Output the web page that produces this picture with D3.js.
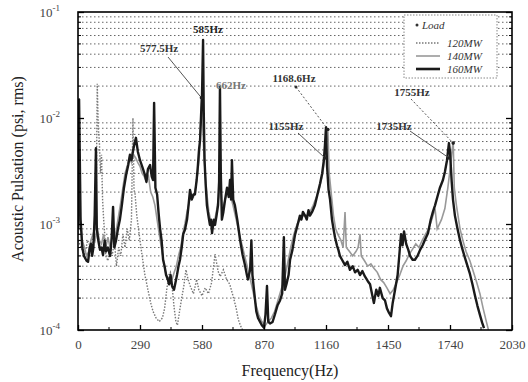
<!DOCTYPE html>
<html>
<head>
<meta charset="utf-8">
<script src="https://cdn.jsdelivr.net/npm/d3@7"></script>
<style>
  body { margin: 0; background: #fff; }
  svg { display: block; }
  text { font-family: "Liberation Serif", "DejaVu Serif", serif; }
</style>
</head>
<body>
<div id="chart"></div>
<script>
// tick labels
var xTicks = [0, 290, 580, 870, 1160, 1450, 1740, 2030];
var yTicks = [1e-4, 1e-3, 1e-2, 1e-1];
var yTickExp = ["-4", "-3", "-2", "-1"];
var seriesNames = ["120MW", "140MW", "160MW"];

// 120MW (dotted)
var f120 = [0, 15, 30, 45, 60, 75, 85, 90, 95, 100, 105, 110, 115, 120, 125, 130, 140, 150, 160, 170, 180, 190, 200, 210, 220, 230, 240, 250, 257, 262, 267, 275, 290, 300, 313, 327, 340, 351, 365, 380, 395, 405, 415, 425, 432, 440, 450, 458, 465, 475, 485, 495, 505, 515, 525, 540, 555, 565, 580, 595, 610, 625, 641, 655, 665, 680, 695, 710, 725, 740, 750, 760, 770];
var v120 = [0.0007, 0.0006, 0.0005, 0.0007, 0.0006, 0.0008, 0.0015, 0.021, 0.008, 0.006, 0.003, 0.0045, 0.0017, 0.0011, 0.0008, 0.0005, 0.00045, 0.0006, 0.0005, 0.0007, 0.0004, 0.0006, 0.0005, 0.0008, 0.0006, 0.0009, 0.0007, 0.0011, 0.010, 0.0021, 0.0019, 0.0012, 0.0007, 0.0005, 0.00033, 0.00024, 0.00018, 0.00015, 0.00013, 0.00012, 0.00013, 0.00016, 0.00024, 0.00033, 0.00035, 0.00026, 0.00016, 0.00012, 0.000111, 0.00015, 0.0002, 0.00026, 0.00037, 0.0003, 0.00026, 0.00022, 0.0003, 0.00024, 0.00021, 0.00025, 0.00022, 0.00028, 0.00052, 0.00036, 0.00032, 0.00037, 0.0003, 0.00027, 0.00021, 0.00016, 0.000125, 0.00011, 0.0001];

// 140MW (thin grey)
var f140 = [0, 10, 20, 30, 40, 50, 60, 70, 80, 90, 100, 110, 120, 130, 140, 150, 160, 170, 180, 190, 200, 210, 220, 230, 240, 250, 260, 270, 280, 290, 300, 310, 320, 330, 340, 350, 360, 370, 380, 390, 400, 410, 420, 430, 440, 450, 460, 470, 480, 490, 500, 510, 520, 530, 540, 550, 560, 568, 574, 578, 582, 588, 595, 603, 612, 620, 630, 640, 650, 658, 663, 668, 675, 685, 695, 705, 715, 725, 740, 755, 770, 785, 800, 815, 830, 845, 860, 875, 890, 905, 920, 935, 950, 965, 980, 995, 1010, 1025, 1040, 1055, 1070, 1085, 1100, 1115, 1130, 1145, 1155, 1163, 1169, 1175, 1185, 1195, 1205, 1215, 1230, 1240, 1249, 1255, 1270, 1285, 1300, 1310, 1319, 1325, 1340, 1355, 1370, 1385, 1400, 1415, 1430, 1445, 1460, 1475, 1490, 1505, 1520, 1535, 1550, 1565, 1580, 1595, 1610, 1625, 1640, 1655, 1670, 1680, 1700, 1716, 1730, 1742, 1750, 1755, 1760, 1770, 1787, 1800, 1815, 1833, 1850, 1865, 1880, 1895, 1910, 1920];
var v140 = [0.0008, 0.0012, 0.0007, 0.0006, 0.0005, 0.00055, 0.0007, 0.0008, 0.0007, 0.0009, 0.0007, 0.00065, 0.0008, 0.0006, 0.00075, 0.0006, 0.0008, 0.0007, 0.0009, 0.0012, 0.0016, 0.0022, 0.003, 0.0035, 0.0042, 0.0038, 0.0045, 0.0042, 0.0038, 0.0035, 0.003, 0.0028, 0.0025, 0.0028, 0.002, 0.0018, 0.0015, 0.0011, 0.0008, 0.0006, 0.00045, 0.00035, 0.0003, 0.00028, 0.0003, 0.00035, 0.0004, 0.0005, 0.0006, 0.0008, 0.001, 0.0013, 0.0016, 0.0019, 0.0018, 0.0022, 0.003, 0.0045, 0.009, 0.016, 0.01, 0.005, 0.003, 0.0019, 0.0013, 0.0011, 0.0009, 0.0011, 0.0014, 0.0018, 0.0045, 0.0022, 0.0014, 0.0016, 0.0019, 0.0021, 0.0018, 0.0015, 0.0011, 0.0008, 0.0006, 0.00045, 0.00034, 0.00025, 0.00018, 0.00014, 0.00012, 0.00011, 0.00012, 0.00013, 0.00015, 0.00019, 0.00024, 0.0003, 0.00042, 0.0006, 0.0008, 0.001, 0.0011, 0.0012, 0.0012, 0.0013, 0.0015, 0.0018, 0.0022, 0.003, 0.0045, 0.0065, 0.0075, 0.003, 0.0019, 0.0012, 0.0009, 0.0008, 0.0007, 0.0006, 0.0013, 0.0006, 0.00055, 0.0005, 0.00055, 0.0006, 0.0008, 0.0005, 0.00045, 0.0004, 0.00042, 0.00038, 0.00035, 0.0003, 0.00028, 0.00025, 0.00022, 0.00024, 0.00028, 0.00033, 0.0004, 0.00045, 0.00052, 0.00058, 0.00065, 0.0006, 0.0007, 0.0008, 0.0009, 0.0011, 0.0014, 0.0009, 0.0011, 0.0014, 0.0022, 0.0035, 0.005, 0.006, 0.0022, 0.0015, 0.0009, 0.0007, 0.00055, 0.00045, 0.00035, 0.00028, 0.00022, 0.00016, 0.00012, 0.0001];

// 160MW (thick black)
var f160 = [0, 5, 12, 20, 28, 40, 47, 55, 61, 66, 72, 78, 84, 88, 95, 103, 110, 117, 125, 131, 140, 150, 157, 164, 170, 178, 187, 196, 205, 215, 225, 235, 243, 250, 258, 265, 271, 280, 290, 300, 313, 320, 327, 337, 345, 351, 356, 362, 370, 378, 384, 391, 398, 405, 412, 420, 426, 433, 440, 449, 456, 463, 470, 477, 485, 492, 500, 510, 517, 524, 532, 540, 547, 555, 561, 566, 571, 576, 580, 585, 588, 592, 597, 603, 610, 617, 622, 627, 635, 641, 648, 655, 660, 664, 668, 673, 680, 688, 697, 705, 711, 716, 720, 726, 734, 745, 758, 770, 781, 790, 795, 805, 811, 816, 823, 834, 842, 851, 860, 870, 877, 884, 890, 898, 910, 921, 933, 945, 955, 963, 968, 975, 985, 992, 1003, 1015, 1027, 1038, 1045, 1052, 1062, 1070, 1078, 1085, 1095, 1108, 1120, 1132, 1142, 1150, 1155, 1160, 1165, 1172, 1179, 1188, 1195, 1202, 1211, 1218, 1225, 1235, 1249, 1260, 1272, 1285, 1296, 1308, 1319, 1330, 1342, 1355, 1366, 1375, 1384, 1395, 1405, 1412, 1425, 1436, 1445, 1455, 1464, 1472, 1483, 1495, 1503, 1511, 1518, 1525, 1535, 1545, 1553, 1565, 1576, 1588, 1600, 1612, 1623, 1637, 1650, 1660, 1670, 1684, 1693, 1707, 1716, 1726, 1735, 1740, 1748, 1754, 1763, 1775, 1787, 1798, 1810, 1822, 1833, 1845, 1857, 1868, 1880, 1890, 1899];
var v160 = [0.0009, 0.015, 0.0011, 0.0006, 0.0005, 0.00045, 0.00044, 0.0006, 0.00065, 0.0005, 0.0006, 0.0012, 0.0052, 0.0009, 0.0007, 0.00057, 0.0006, 0.00051, 0.0007, 0.00055, 0.0006, 0.0005, 0.0007, 0.00145, 0.0006, 0.0007, 0.0009, 0.0011, 0.0015, 0.0022, 0.0029, 0.0036, 0.0045, 0.004, 0.005, 0.0058, 0.0065, 0.0048, 0.004, 0.0035, 0.0029, 0.0025, 0.0033, 0.0036, 0.0028, 0.0026, 0.0139, 0.0022, 0.0019, 0.0012, 0.0009, 0.0007, 0.00046, 0.0004, 0.00033, 0.0003, 0.00027, 0.00033, 0.00026, 0.00024, 0.00028, 0.00033, 0.0004, 0.00046, 0.0006, 0.0008, 0.00088, 0.0011, 0.0015, 0.0021, 0.0017, 0.0019, 0.0019, 0.0026, 0.0036, 0.005, 0.0062, 0.011, 0.016, 0.0545, 0.012, 0.004, 0.0024, 0.0015, 0.0012, 0.00098, 0.0011, 0.00082, 0.0011, 0.00098, 0.0012, 0.0015, 0.0025, 0.0196, 0.003, 0.0011, 0.0013, 0.0017, 0.0022, 0.0018, 0.0026, 0.0017, 0.004, 0.0017, 0.0015, 0.0011, 0.00071, 0.00051, 0.00041, 0.00033, 0.0003, 0.00037, 0.0007, 0.00033, 0.00024, 0.00015, 0.00013, 0.00012, 0.000111, 0.000105, 0.00014, 0.00026, 0.00012, 0.000115, 0.000119, 0.00014, 0.00017, 0.00019, 0.00022, 0.00075, 0.00024, 0.00027, 0.00033, 0.00046, 0.00057, 0.00079, 0.00098, 0.0012, 0.0011, 0.0013, 0.0012, 0.0011, 0.00135, 0.0012, 0.0013, 0.0015, 0.0019, 0.0024, 0.003, 0.004, 0.0055, 0.0082, 0.0035, 0.0021, 0.0017, 0.0011, 0.0009, 0.00075, 0.00063, 0.00057, 0.0005, 0.00046, 0.00041, 0.00044, 0.00037, 0.0004, 0.00035, 0.00037, 0.00033, 0.00036, 0.00032, 0.00029, 0.00027, 0.00022, 0.00018, 0.00024, 0.00021, 0.00025, 0.0002, 0.00019, 0.00016, 0.000145, 0.000135, 0.00018, 0.00024, 0.00033, 0.00051, 0.0008, 0.00063, 0.00085, 0.00065, 0.00057, 0.0005, 0.00046, 0.00046, 0.0005, 0.00057, 0.00063, 0.00071, 0.00082, 0.0011, 0.0013, 0.0015, 0.0019, 0.0022, 0.0026, 0.0031, 0.004, 0.0058, 0.0048, 0.0025, 0.0017, 0.0012, 0.0009, 0.0007, 0.00058, 0.00048, 0.0004, 0.00034, 0.00027, 0.00021, 0.00017, 0.000139, 0.000118, 0.000104];

// peak labels: freq/value the pointer touches, label text
var annoText = ["585Hz", "577.5Hz", "662Hz", "1168.6Hz", "1155Hz", "1755Hz", "1735Hz"];
var annoFreq = [585, 577.5, 664, 1168.6, 1155, 1755, 1735];
var annoVal = [0.05, 0.0155, 0.018, 0.0078, 0.0042, 0.0058, 0.0042];

var W = 528, H = 382;
var margin = {left: 78, right: 16, top: 12, bottom: 52};

var svg = d3.select("#chart").append("svg")
  .attr("width", W).attr("height", H);

var x = d3.scaleLinear().domain([0, 2030]).range([margin.left, W - margin.right]);
var y = d3.scaleLog().domain([1e-4, 1e-1]).range([H - margin.bottom, margin.top]);

svg.append("clipPath").attr("id", "plotclip")
  .append("rect")
  .attr("x", margin.left).attr("y", margin.top)
  .attr("width", W - margin.left - margin.right)
  .attr("height", H - margin.top - margin.bottom);

// minor log values for grid + ticks
var minorVals = [];
[1e-4, 1e-3, 1e-2].forEach(function(dec) {
  for (var k = 2; k <= 9; k++) minorVals.push(dec * k);
});

svg.append("g").selectAll("line").data(minorVals).enter()
  .append("line")
  .attr("x1", margin.left).attr("x2", W - margin.right)
  .attr("y1", function(d) { return y(d); })
  .attr("y2", function(d) { return y(d); })
  .attr("stroke", "#666")
  .attr("stroke-width", 1)
  .attr("stroke-dasharray", "1.5,2.5");

// series
var line = d3.line()
  .x(function(d) { return x(d[0]); })
  .y(function(d) { return y(Math.max(d[1], 5e-5)); });

var plot = svg.append("g").attr("clip-path", "url(#plotclip)");

plot.append("path")
  .datum(d3.zip(f120, v120))
  .attr("d", line)
  .attr("fill", "none")
  .attr("stroke", "#777")
  .attr("stroke-width", 1.4)
  .attr("stroke-dasharray", "1.5,1.5");

plot.append("path")
  .datum(d3.zip(f140, v140))
  .attr("d", line)
  .attr("fill", "none")
  .attr("stroke", "#999")
  .attr("stroke-width", 1.6);

plot.append("path")
  .datum(d3.zip(f160, v160))
  .attr("d", line)
  .attr("fill", "none")
  .attr("stroke", "#1a1a1a")
  .attr("stroke-width", 2.4)
  .attr("stroke-linejoin", "round");

// axes: ticks pointing inward
var xMinor = d3.range(145, 2030, 290);
var xAxis = d3.axisBottom(x).tickValues(xTicks).tickSize(-5).tickPadding(10)
  .tickFormat(function(d) { return d; });
var gx = svg.append("g")
  .attr("transform", "translate(0," + (H - margin.bottom) + ")")
  .call(xAxis);
gx.select(".domain").remove();
gx.selectAll("text")
  .attr("font-family", "Liberation Serif, serif")
  .attr("font-size", 13).attr("fill", "#444");
gx.selectAll("line").attr("stroke", "#000").attr("stroke-width", 1.3);

svg.append("g").selectAll("line").data(xMinor).enter()
  .append("line")
  .attr("x1", function(d) { return x(d); }).attr("x2", function(d) { return x(d); })
  .attr("y1", H - margin.bottom).attr("y2", H - margin.bottom - 3)
  .attr("stroke", "#000").attr("stroke-width", 1);

var yAxis = d3.axisLeft(y).tickValues(yTicks).tickSize(-6).tickFormat("");
var gy = svg.append("g")
  .attr("transform", "translate(" + margin.left + ",0)")
  .call(yAxis);
gy.select(".domain").remove();
gy.selectAll("line").attr("stroke", "#000").attr("stroke-width", 1.3);

var gyr = svg.append("g")
  .attr("transform", "translate(" + (W - margin.right) + ",0)")
  .call(d3.axisRight(y).tickValues(yTicks).tickSize(-6).tickFormat(""));
gyr.select(".domain").remove();
gyr.selectAll("line").attr("stroke", "#000").attr("stroke-width", 1.3);

[margin.left, W - margin.right].forEach(function(xx, i) {
  svg.append("g").selectAll("line").data(minorVals).enter()
    .append("line")
    .attr("x1", xx).attr("x2", xx + (i === 0 ? 3 : -3))
    .attr("y1", function(d) { return y(d); })
    .attr("y2", function(d) { return y(d); })
    .attr("stroke", "#000").attr("stroke-width", 1);
});

// y tick labels 10^n
var ylab = svg.append("g").selectAll("text").data(yTicks).enter()
  .append("text")
  .attr("x", 60).attr("y", function(d) { return y(d) + 5; })
  .attr("text-anchor", "end")
  .attr("font-size", 13).attr("fill", "#444");
ylab.append("tspan").text("10");
ylab.append("tspan")
  .attr("dy", -6).attr("font-size", 9)
  .text(function(d, i) { return yTickExp[i]; });

// frame
svg.append("rect")
  .attr("x", margin.left).attr("y", margin.top)
  .attr("width", W - margin.left - margin.right)
  .attr("height", H - margin.top - margin.bottom)
  .attr("fill", "none").attr("stroke", "#000").attr("stroke-width", 1.6);

// axis titles
svg.append("text")
  .attr("x", (margin.left + W - margin.right) / 2 - 5).attr("y", 376)
  .attr("text-anchor", "middle").attr("font-size", 16).attr("fill", "#222")
  .text("Frequency(Hz)");

svg.append("text")
  .attr("transform", "translate(23,169) rotate(-90)")
  .attr("text-anchor", "middle").attr("font-size", 16).attr("fill", "#222")
  .text("Acoustic Pulsation (psi, rms)");

// annotations
var ann = svg.append("g").attr("font-size", 11).attr("font-weight", "bold");
var labelPos = [[208, 33], [159, 52], [231, 89], [294, 82], [286, 130], [412, 96], [394, 130]];
var lineFrom = [null, [168, 57], null, [296, 87], [298, 133], [411, 99], [410, 131]];
var lineDash = [null, null, null, "2,2", null, "2,2", null];
var annoColor = ["#222", "#333", "#777", "#333", "#333", "#333", "#333"];

annoText.forEach(function(t, i) {
  if (lineFrom[i]) {
    var tx = x(annoFreq[i]), ty = y(annoVal[i]);
    ann.append("line")
      .attr("x1", lineFrom[i][0]).attr("y1", lineFrom[i][1])
      .attr("x2", tx).attr("y2", ty)
      .attr("stroke", "#555").attr("stroke-width", 1)
      .attr("stroke-dasharray", lineDash[i]);
    ann.append("circle").attr("cx", tx).attr("cy", ty).attr("r", 1.8).attr("fill", "#222");
  }
  ann.append("text")
    .attr("x", labelPos[i][0]).attr("y", labelPos[i][1])
    .attr("text-anchor", "middle").attr("fill", annoColor[i])
    .text(t);
});
ann.append("circle").attr("cx", 296).attr("cy", 87).attr("r", 1.5).attr("fill", "#333");

// legend
var lg = svg.append("g").attr("transform", "translate(404,15)");
lg.append("rect").attr("width", 93).attr("height", 63)
  .attr("fill", "#fff").attr("stroke", "#888").attr("stroke-dasharray", "1.5,1.5");
lg.append("circle").attr("cx", 13).attr("cy", 10).attr("r", 1.5).attr("fill", "#333");
lg.append("text").attr("x", 18).attr("y", 14).attr("font-size", 11)
  .attr("font-style", "italic").attr("fill", "#333").text("Load");
var lgStroke = ["#777", "#999", "#1a1a1a"];
var lgWidth = [1.4, 1.6, 2.6];
var lgDash = ["1.5,1.5", null, null];
seriesNames.forEach(function(n, i) {
  var yy = 28 + i * 13;
  lg.append("line").attr("x1", 12).attr("x2", 36).attr("y1", yy).attr("y2", yy)
    .attr("stroke", lgStroke[i]).attr("stroke-width", lgWidth[i])
    .attr("stroke-dasharray", lgDash[i]);
  lg.append("text").attr("x", 43).attr("y", yy + 4).attr("font-size", 11)
    .attr("font-style", "italic").attr("fill", "#333").text(n);
});
</script>
</body>
</html>
